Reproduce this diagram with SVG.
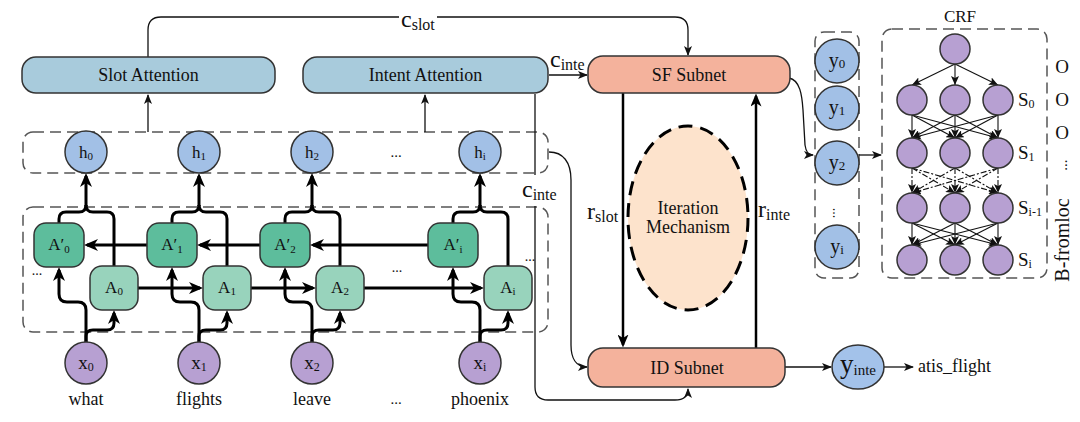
<svg xmlns="http://www.w3.org/2000/svg" width="1080" height="422" viewBox="0 0 1080 422">
<defs>
<style>
.t{font-family:"Liberation Serif","DejaVu Serif",serif;fill:#111}
.f18{font-size:18px}
.lb{font-size:17px}
.sub{font-size:11px}
.m{font-size:24px}
.ms{font-size:16px}
.bx{stroke:#333;stroke-width:1.5}
.dash{fill:none;stroke:#555;stroke-width:1.5;stroke-dasharray:11 6}
.thick{fill:none;stroke:#000;stroke-width:3}
.med{fill:none;stroke:#000;stroke-width:2.5}
.thin{fill:none;stroke:#111;stroke-width:1.3}
.crf{fill:none;stroke:#111;stroke-width:1.1}
.dd{stroke-dasharray:6 2 2 2}
.att{fill:#a8cbdc}
.hc{fill:#a2c0e6}
.ap{fill:#5dbd9c}
.aa{fill:#98d3bc}
.xc{fill:#b7a0d2}
.sn{fill:#f4b29c}
</style>
<marker id="mk" viewBox="0 0 14 12" refX="11" refY="6" markerWidth="14" markerHeight="12" markerUnits="userSpaceOnUse" orient="auto"><path d="M0,0 L14,6 L0,12 L4,6 z" fill="#000"/></marker>
<marker id="mm" viewBox="0 0 13 11" refX="10.5" refY="5.5" markerWidth="13" markerHeight="11" markerUnits="userSpaceOnUse" orient="auto"><path d="M0,0 L13,5.5 L0,11 L3.5,5.5 z" fill="#000"/></marker>
<marker id="ms" viewBox="0 0 10 8" refX="9" refY="4" markerWidth="10" markerHeight="8" markerUnits="userSpaceOnUse" orient="auto"><path d="M0,0 L10,4 L0,8 L2.5,4 z" fill="#111"/></marker>
<marker id="mc" viewBox="0 0 9 8" refX="9" refY="4" markerWidth="9" markerHeight="8" markerUnits="userSpaceOnUse" orient="auto"><path d="M0,0 L9,4 L0,8 L2,4 z" fill="#111"/></marker>
</defs>
<rect width="1080" height="422" fill="#fff"/>

<!-- dashed group boxes -->
<g id="h-layer-box"><rect class="dash" x="23" y="132" width="525" height="41" rx="10"/></g>
<g id="rnn-layer-box"><rect class="dash" x="23" y="207" width="525" height="125" rx="10"/></g>
<g id="y-layer-box"><rect class="dash" x="815" y="32" width="44" height="246" rx="9"/></g>
<g id="crf-box"><rect class="dash" x="882" y="29" width="165" height="249" rx="10"/>
<text class="t" x="960" y="22" font-size="17" text-anchor="middle">CRF</text></g>

<!-- connectors -->
<g id="connectors">
<!-- column 0 -->
<path class="thick" d="M59,223 V219 Q59,212 66,212 H79 Q86,212 86,205"/>
<path class="thick" d="M114,266 V219 Q114,212 107,212 H93 Q86,212 86,205"/>
<path class="thick" d="M86,206 V176" marker-end="url(#mk)"/>
<path class="thick" d="M86,342 V336 Q86,330 93,330 H107 Q114,330 114,323 V313" marker-end="url(#mk)"/>
<path class="thick" d="M86,342 V310 Q86,302 78,302 H67 Q59,302 59,294 V270" marker-end="url(#mk)"/>
<!-- column 1 -->
<path class="thick" d="M172,223 V219 Q172,212 179,212 H192 Q199,212 199,205"/>
<path class="thick" d="M227,266 V219 Q227,212 220,212 H206 Q199,212 199,205"/>
<path class="thick" d="M199,206 V176" marker-end="url(#mk)"/>
<path class="thick" d="M199,342 V336 Q199,330 206,330 H220 Q227,330 227,323 V313" marker-end="url(#mk)"/>
<path class="thick" d="M199,342 V310 Q199,302 191,302 H180 Q172,302 172,294 V270" marker-end="url(#mk)"/>
<!-- column 2 -->
<path class="thick" d="M285,223 V219 Q285,212 292,212 H305 Q312,212 312,205"/>
<path class="thick" d="M340,266 V219 Q340,212 333,212 H319 Q312,212 312,205"/>
<path class="thick" d="M312,206 V176" marker-end="url(#mk)"/>
<path class="thick" d="M312,342 V336 Q312,330 319,330 H333 Q340,330 340,323 V313" marker-end="url(#mk)"/>
<path class="thick" d="M312,342 V310 Q312,302 304,302 H293 Q285,302 285,294 V270" marker-end="url(#mk)"/>
<!-- column i -->
<path class="thick" d="M453,223 V219 Q453,212 460,212 H473 Q480,212 480,205"/>
<path class="thick" d="M508,266 V219 Q508,212 501,212 H487 Q480,212 480,205"/>
<path class="thick" d="M480,206 V176" marker-end="url(#mk)"/>
<path class="thick" d="M480,342 V336 Q480,330 487,330 H501 Q508,330 508,323 V313" marker-end="url(#mk)"/>
<path class="thick" d="M480,342 V310 Q480,302 472,302 H461 Q453,302 453,294 V270" marker-end="url(#mk)"/>
<!-- backward row -->
<path class="thick" d="M147,245 H87" marker-end="url(#mk)"/>
<path class="thick" d="M260,245 H200" marker-end="url(#mk)"/>
<path class="thick" d="M428,245 H313" marker-end="url(#mk)"/>
<!-- forward row -->
<path class="thick" d="M138,288 H200" marker-end="url(#mk)"/>
<path class="thick" d="M251,288 H313" marker-end="url(#mk)"/>
<path class="thick" d="M364,288 H481" marker-end="url(#mk)"/>
<!-- attention inputs -->
<path class="thin" d="M148,132 V95" marker-end="url(#ms)"/>
<path class="thin" d="M425,132 V95" marker-end="url(#ms)"/>
<!-- c_slot -->
<path class="thin" d="M148,57 V30 Q148,17 161,17 H399"/>
<path class="thin" d="M437,17 H675 Q688,17 688,30 V55" marker-end="url(#ms)"/>
<!-- c_inte to SF -->
<path class="thin" d="M549,75 H587" marker-end="url(#ms)"/>
<!-- c_inte to ID -->
<path class="thin" d="M535,94 V175"/>
<path class="thin" d="M535,206 V387 Q535,400 548,400 H675 Q688,400 688,389" marker-end="url(#ms)"/>
<!-- h to ID -->
<path class="thin" d="M549,152 C563,152 571,162 571,180 V345 C571,358 576,367 587,367" marker-end="url(#ms)"/>
<!-- r arrows -->
<path class="med" d="M623,93 V345" marker-end="url(#mm)"/>
<path class="med" d="M756,348 V96" marker-end="url(#mm)"/>
<!-- SF to y2 -->
<path class="thin" d="M789,78 C800,80 802,95 803,110 L805,145 C806,152 808,155 813,155" marker-end="url(#ms)"/>
<!-- y2 to CRF -->
<path class="thin" d="M859,155 H881" marker-end="url(#ms)"/>
<!-- ID to y_inte, y_inte to label -->
<path class="thin" d="M785,367 H831" marker-end="url(#ms)"/>
<path class="thin" d="M884,367 H913" marker-end="url(#ms)"/>
<!-- CRF edges -->
<g class="crf" marker-end="url(#mc)">
<path d="M955,64 L912,85"/><path d="M955,64 L955,85"/><path d="M955,64 L998,85"/>
<path d="M912,115 L912,138"/><path d="M912,115 L955,138"/><path d="M912,115 L998,138"/>
<path d="M955,115 L912,138"/><path d="M955,115 L955,138"/><path d="M955,115 L998,138"/>
<path d="M998,115 L912,138"/><path d="M998,115 L955,138"/><path d="M998,115 L998,138"/>
<path d="M912,223 L912,245"/><path d="M912,223 L955,245"/><path d="M912,223 L998,245"/>
<path d="M955,223 L912,245"/><path d="M955,223 L955,245"/><path d="M955,223 L998,245"/>
<path d="M998,223 L912,245"/><path d="M998,223 L955,245"/><path d="M998,223 L998,245"/>
</g>
<g class="crf dd" marker-end="url(#mc)">
<path d="M912,168 L912,193"/><path d="M912,168 L955,193"/><path d="M912,168 L998,193"/>
<path d="M955,168 L912,193"/><path d="M955,168 L955,193"/><path d="M955,168 L998,193"/>
<path d="M998,168 L912,193"/><path d="M998,168 L955,193"/><path d="M998,168 L998,193"/>
</g>
</g>

<!-- attention nodes -->
<g id="slot-attention"><rect class="bx att" x="22" y="57" width="253" height="36" rx="14"/>
<text class="t f18" x="148.5" y="81" text-anchor="middle">Slot Attention</text></g>
<g id="intent-attention"><rect class="bx att" x="303" y="57" width="245" height="36" rx="14"/>
<text class="t f18" x="425.5" y="81" text-anchor="middle">Intent Attention</text></g>

<!-- h nodes -->
<g id="h0"><circle class="bx hc" cx="86" cy="152" r="21"/><text class="t lb" x="86" y="158" text-anchor="middle">h<tspan class="sub" dy="2">0</tspan></text></g>
<g id="h1"><circle class="bx hc" cx="199" cy="152" r="21"/><text class="t lb" x="199" y="158" text-anchor="middle">h<tspan class="sub" dy="2">1</tspan></text></g>
<g id="h2"><circle class="bx hc" cx="312" cy="152" r="21"/><text class="t lb" x="312" y="158" text-anchor="middle">h<tspan class="sub" dy="2">2</tspan></text></g>
<text class="t" x="396" y="157" font-size="15" text-anchor="middle">...</text>
<g id="hi"><circle class="bx hc" cx="480" cy="152" r="21"/><text class="t lb" x="480" y="158" text-anchor="middle">h<tspan class="sub" dy="2">i</tspan></text></g>

<!-- A' nodes -->
<g id="Ap0"><rect class="bx ap" x="34" y="223" width="50" height="44" rx="12"/><text class="t lb" x="59" y="250" text-anchor="middle">A′<tspan class="sub" dy="3">0</tspan></text></g>
<g id="Ap1"><rect class="bx ap" x="147" y="223" width="50" height="44" rx="12"/><text class="t lb" x="172" y="250" text-anchor="middle">A′<tspan class="sub" dy="3">1</tspan></text></g>
<g id="Ap2"><rect class="bx ap" x="260" y="223" width="50" height="44" rx="12"/><text class="t lb" x="285" y="250" text-anchor="middle">A′<tspan class="sub" dy="3">2</tspan></text></g>
<g id="Api"><rect class="bx ap" x="428" y="223" width="50" height="44" rx="12"/><text class="t lb" x="453" y="250" text-anchor="middle">A′<tspan class="sub" dy="3">i</tspan></text></g>
<!-- A nodes -->
<g id="A0"><rect class="bx aa" x="90" y="266" width="48" height="44" rx="12"/><text class="t lb" x="114" y="293" text-anchor="middle">A<tspan class="sub" dy="2">0</tspan></text></g>
<g id="A1"><rect class="bx aa" x="203" y="266" width="48" height="44" rx="12"/><text class="t lb" x="227" y="293" text-anchor="middle">A<tspan class="sub" dy="2">1</tspan></text></g>
<g id="A2"><rect class="bx aa" x="316" y="266" width="48" height="44" rx="12"/><text class="t lb" x="340" y="293" text-anchor="middle">A<tspan class="sub" dy="2">2</tspan></text></g>
<g id="Ai"><rect class="bx aa" x="484" y="266" width="48" height="44" rx="12"/><text class="t lb" x="508" y="293" text-anchor="middle">A<tspan class="sub" dy="2">i</tspan></text></g>
<text class="t" x="37" y="275" font-size="14" text-anchor="middle">...</text>
<text class="t" x="397" y="272" font-size="14" text-anchor="middle">...</text>
<text class="t" x="530" y="261" font-size="14" text-anchor="middle">...</text>

<!-- x nodes -->
<g id="x0"><circle class="bx xc" cx="86" cy="363" r="21"/><text class="t" x="86" y="369" font-size="19" text-anchor="middle">x<tspan font-size="12" dy="2">0</tspan></text><text class="t f18" x="86" y="405" text-anchor="middle">what</text></g>
<g id="x1"><circle class="bx xc" cx="199" cy="363" r="21"/><text class="t" x="199" y="369" font-size="19" text-anchor="middle">x<tspan font-size="12" dy="2">1</tspan></text><text class="t f18" x="199" y="405" text-anchor="middle">flights</text></g>
<g id="x2"><circle class="bx xc" cx="312" cy="363" r="21"/><text class="t" x="312" y="369" font-size="19" text-anchor="middle">x<tspan font-size="12" dy="2">2</tspan></text><text class="t f18" x="312" y="405" text-anchor="middle">leave</text></g>
<text class="t" x="396" y="404" font-size="15" text-anchor="middle">...</text>
<g id="xi"><circle class="bx xc" cx="480" cy="363" r="21"/><text class="t" x="480" y="369" font-size="19" text-anchor="middle">x<tspan font-size="12" dy="2">i</tspan></text><text class="t f18" x="480" y="405" text-anchor="middle">phoenix</text></g>

<!-- math labels -->
<text class="t m" x="401" y="27">c<tspan class="ms" dy="3">slot</tspan></text>
<text class="t m" x="550" y="67">c<tspan class="ms" dy="3">inte</tspan></text>
<text class="t m" x="522" y="197">c<tspan class="ms" dy="3">inte</tspan></text>
<text class="t m" x="587" y="219">r<tspan class="ms" dy="3">slot</tspan></text>
<text class="t m" x="758" y="217">r<tspan class="ms" dy="3">inte</tspan></text>

<!-- subnets -->
<g id="sf-subnet"><rect class="bx sn" x="588" y="56" width="202" height="37" rx="15"/>
<text class="t f18" x="689" y="81" text-anchor="middle">SF Subnet</text></g>
<g id="id-subnet"><rect class="bx sn" x="588" y="348" width="197" height="39" rx="15"/>
<text class="t f18" x="687" y="374" text-anchor="middle">ID Subnet</text></g>
<g id="iteration-mechanism"><ellipse cx="688" cy="218" rx="60" ry="92" fill="#fde3cc" stroke="#000" stroke-width="3" stroke-dasharray="14 8"/>
<text class="t f18" x="688" y="214" text-anchor="middle">Iteration</text>
<text class="t f18" x="688" y="233" text-anchor="middle">Mechanism</text></g>

<!-- intent output -->
<g id="y-inte"><ellipse class="bx" cx="858" cy="367" rx="26" ry="22" fill="#a3c2ea"/>
<text class="t" x="858" y="373" font-size="27" text-anchor="middle">y<tspan font-size="15" dy="2">inte</tspan></text></g>
<text class="t f18" x="918" y="372">atis_flight</text>

<!-- y nodes -->
<g id="y0"><circle class="bx hc" cx="837" cy="61" r="22"/><text class="t" x="837" y="67" font-size="20" text-anchor="middle">y<tspan font-size="13" dy="1">0</tspan></text></g>
<g id="y1"><circle class="bx hc" cx="837" cy="108" r="22"/><text class="t" x="837" y="114" font-size="20" text-anchor="middle">y<tspan font-size="13" dy="1">1</tspan></text></g>
<g id="y2"><circle class="bx hc" cx="837" cy="163" r="22"/><text class="t" x="837" y="169" font-size="20" text-anchor="middle">y<tspan font-size="13" dy="1">2</tspan></text></g>
<text class="t" font-size="14" text-anchor="middle" transform="translate(833,213) rotate(90)">...</text>
<g id="yi"><circle class="bx hc" cx="837" cy="247" r="22"/><text class="t" x="837" y="253" font-size="20" text-anchor="middle">y<tspan font-size="13" dy="1">i</tspan></text></g>

<!-- CRF nodes -->
<g id="crf-start"><circle class="bx xc" cx="955" cy="49" r="15"/></g>
<g id="crf-s0"><circle class="bx xc" cx="912" cy="100" r="15"/><circle class="bx xc" cx="955" cy="100" r="15"/><circle class="bx xc" cx="998" cy="100" r="15"/>
<text class="t" x="1018" y="106" font-size="19">S<tspan font-size="12" dy="2">0</tspan></text></g>
<g id="crf-s1"><circle class="bx xc" cx="912" cy="153" r="15"/><circle class="bx xc" cx="955" cy="153" r="15"/><circle class="bx xc" cx="998" cy="153" r="15"/>
<text class="t" x="1018" y="159" font-size="19">S<tspan font-size="12" dy="2">1</tspan></text></g>
<g id="crf-si-1"><circle class="bx xc" cx="912" cy="208" r="15"/><circle class="bx xc" cx="955" cy="208" r="15"/><circle class="bx xc" cx="998" cy="208" r="15"/>
<text class="t" x="1018" y="214" font-size="19">S<tspan font-size="12" dy="2">i-1</tspan></text></g>
<g id="crf-si"><circle class="bx xc" cx="912" cy="260" r="15"/><circle class="bx xc" cx="955" cy="260" r="15"/><circle class="bx xc" cx="998" cy="260" r="15"/>
<text class="t" x="1018" y="266" font-size="19">S<tspan font-size="12" dy="2">i</tspan></text></g>

<!-- tag labels -->
<g id="tags" class="t" font-size="19" text-anchor="middle">
<text x="1062" y="73">O</text>
<text x="1062" y="106">O</text>
<text x="1062" y="139">O</text>
<text transform="translate(1067,165) rotate(-90)" font-size="15">...</text>
<text transform="translate(1069,240) rotate(-90)" font-size="20">B-fromloc</text>
</g>
</svg>
